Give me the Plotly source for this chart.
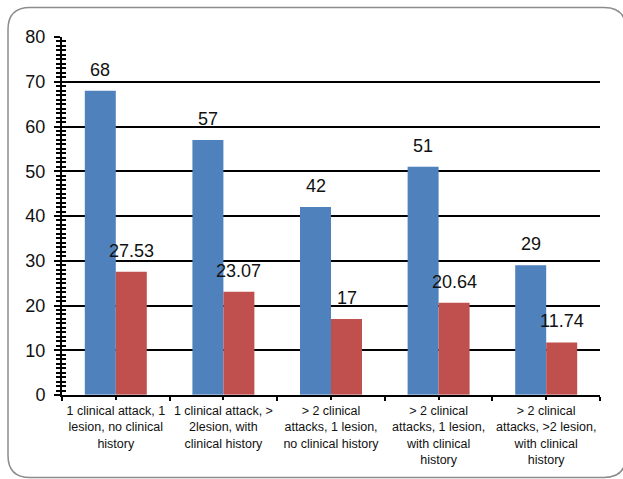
import plotly.graph_objects as go

categories = [
    "1 clinical attack, 1<br>lesion, no clinical<br>history",
    "1 clinical attack, ><br>2lesion, with<br>clinical history",
    "> 2 clinical<br>attacks, 1 lesion,<br>no clinical history",
    "> 2 clinical<br>attacks, 1 lesion,<br>with clinical<br>history",
    "> 2 clinical<br>attacks, >2 lesion,<br>with clinical<br>history",
]
blue_values = [68, 57, 42, 51, 29]
red_values = [27.53, 23.07, 17, 20.64, 11.74]
blue_labels = ["68", "57", "42", "51", "29"]
red_labels = ["27.53", "23.07", "17", "20.64", "11.74"]

W, H = 623, 479
L, R, T, B = 62, 23, 37, 84
PW, PH = W - L - R, H - T - B

def px(x):
    return (x - L) / PW

def py(y):
    return (H - B - y) / PH

fig = go.Figure()
fig.add_trace(go.Bar(x=categories, y=blue_values, marker=dict(color="#4F81BD", line=dict(width=0)), name="A"))
fig.add_trace(go.Bar(x=categories, y=red_values, marker=dict(color="#C0504D", line=dict(width=0)), name="B"))

# invisible trace on secondary x axis for center ticks
fig.add_trace(go.Bar(x=categories, y=[0]*5, xaxis="x2", yaxis="y2", showlegend=False,
                     marker=dict(color="rgba(0,0,0,0)"), hoverinfo="skip"))

lab_font = dict(size=18, color="#111", family="Liberation Sans, Arial")
ann = []
for c, v, t in zip(categories, blue_values, blue_labels):
    ann.append(dict(x=c, y=v, text=t, xref="x", yref="y", showarrow=False, xshift=-15.5,
                    yshift=21, yanchor="middle", font=lab_font))
for c, v, t in zip(categories, red_values, red_labels):
    ann.append(dict(x=c, y=v, text=t, xref="x", yref="y", showarrow=False, xshift=15.5,
                    yshift=21, yanchor="middle", font=lab_font))

# rounded frame
x0, x1, y0, y1, r = 8, 626, 7.5, 477.5, 22
path = (f"M {px(x0)},{py(y0 + r)} Q {px(x0)},{py(y0)} {px(x0 + r)},{py(y0)} "
        f"L {px(x1 - r)},{py(y0)} Q {px(x1)},{py(y0)} {px(x1)},{py(y0 + r)} "
        f"L {px(x1)},{py(y1 - r)} Q {px(x1)},{py(y1)} {px(x1 - r)},{py(y1)} "
        f"L {px(x0 + r)},{py(y1)} Q {px(x0)},{py(y1)} {px(x0)},{py(y1 - r)} Z")

fig.update_layout(
    width=W, height=H,
    margin=dict(l=L, r=R, t=T, b=B, autoexpand=False),
    paper_bgcolor="white", plot_bgcolor="white",
    barmode="group", bargap=0.424, bargroupgap=0,
    showlegend=False,
    font=dict(family="Liberation Sans, Arial", color="#111"),
    annotations=ann,
    shapes=[dict(type="path", path=path, xref="paper", yref="paper",
                 line=dict(color="#8c8c8c", width=1.5), layer="below")],
    xaxis=dict(
        type="category", tickson="boundaries", ticks="outside", ticklen=4, tickwidth=1.5, tickcolor="black",
        showline=True, linecolor="black", linewidth=2, showgrid=False, tickangle=0, automargin=False,
        tickfont=dict(size=12.5, color="#111"), range=[-0.5, 4.5], ticklabelstandoff=3,
    ),
    xaxis2=dict(
        type="category", overlaying="x", side="bottom", anchor="y", ticks="outside", ticklen=4,
        tickwidth=1.5, tickcolor="black", showticklabels=False, showgrid=False, showline=False,
        range=[-0.5, 4.5], automargin=False,
    ),
    yaxis=dict(
        range=[0, 80], dtick=10, tick0=0, ticks="outside", ticklen=6, tickwidth=1.5, tickcolor="black",
        showline=True, linecolor="black", linewidth=2, showgrid=True, gridcolor="black", gridwidth=1.5,
        tickfont=dict(size=18, color="#111"), ticklabelstandoff=5, zeroline=False, automargin=False,
        minor=dict(dtick=1, ticks="outside", ticklen=4, tickwidth=1.5, tickcolor="black", showgrid=False),
    ),
    yaxis2=dict(
        range=[0, 80], overlaying="y", side="left", anchor="x", ticks="inside", ticklen=4, tickwidth=1.5,
        tickcolor="black", dtick=10, showticklabels=False, showgrid=False, showline=False, zeroline=False,
        automargin=False,
        minor=dict(dtick=1, ticks="inside", ticklen=4, tickwidth=1.5, tickcolor="black", showgrid=False),
    ),
)

fig.write_html("out.html")
